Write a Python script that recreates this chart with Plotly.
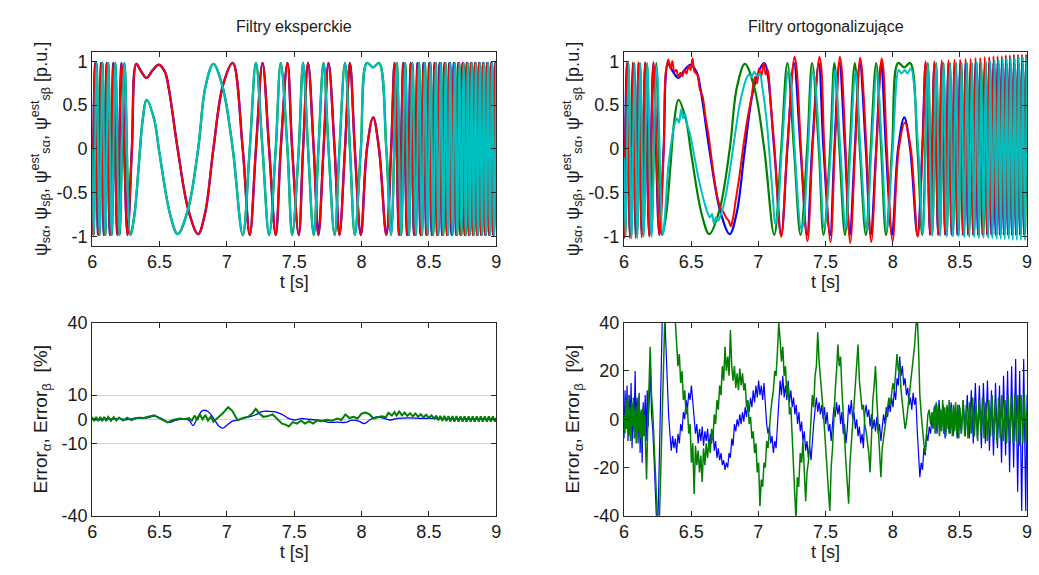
import plotly.graph_objects as go

# --- flux signals: extrema plus a few shape points ---
# true psi_s_alpha (blue); the expert filter estimate (red, left) lies on it
psi_a_t = [6.000, 6.022, 6.044, 6.066, 6.087, 6.108, 6.132, 6.157, 6.187, 6.218,
           6.262, 6.295, 6.328, 6.365, 6.405, 6.45, 6.495, 6.54, 6.57, 6.635,
           6.715, 6.787, 6.84, 6.90, 6.97, 7.044, 7.118, 7.17, 7.216, 7.265,
           7.314, 7.363, 7.40, 7.45, 7.485, 7.534, 7.566, 7.603, 7.645, 7.68,
           7.718, 7.755, 7.80, 7.836, 7.877, 7.914, 7.95, 7.995, 8.04, 8.086,
           8.13, 8.184, 8.22, 8.245, 8.278, 8.31, 8.338, 8.365, 8.39, 8.415,
           8.438, 8.46, 8.481, 8.502, 8.522, 8.542, 8.561, 8.58, 8.598, 8.616,
           8.634, 8.651, 8.668, 8.685, 8.702, 8.718, 8.734, 8.75, 8.766, 8.781,
           8.797, 8.812, 8.827, 8.842, 8.857, 8.872, 8.887, 8.902, 8.917, 8.932,
           8.947, 8.962, 8.977, 8.992, 9.0]
psi_a = [-0.98, 0.98, -0.98, 0.98, -0.98, 0.98, -0.98, 0.98, -0.98, 0.98,
         -0.98, 0.0, 0.97, 0.88, 0.81, 0.9, 0.96, 0.88, 0.68, 0.0,
         -0.7, -0.97, -0.72, 0.0, 0.72, 0.98, 0.0, -0.98, 0.0, 0.98,
         0.0, -0.98, 0.0, 0.98, 0.0, -0.98, 0.0, 0.98, 0.0, -0.98,
         0.0, 0.98, 0.0, -0.98, 0.0, 0.98, 0.0, -0.98, 0.0, 0.36,
         0.0, -0.98, 0.0, 0.98, -0.98, 0.98, -0.98, 0.98, -0.98, 0.98,
         -0.98, 0.98, -0.98, 0.98, -0.98, 0.98, -0.98, 0.98, -0.98, 0.98,
         -0.98, 0.98, -0.98, 0.98, -0.98, 0.98, -0.98, 0.98, -0.98, 0.98,
         -0.98, 0.98, -0.98, 0.98, -0.98, 0.98, -0.98, 0.98, -0.98, 0.98,
         -0.98, 0.98, -0.98, 0.98, 0.3]

# true psi_s_beta (green); the expert filter estimate (cyan, left) lies on it
psi_b_t = [6.000, 6.011, 6.033, 6.055, 6.077, 6.098, 6.12, 6.145, 6.172, 6.203,
           6.24, 6.284, 6.314, 6.345, 6.375, 6.405, 6.46, 6.5, 6.578, 6.635,
           6.71, 6.787, 6.84, 6.90, 6.97, 7.044, 7.118, 7.17, 7.216, 7.265,
           7.314, 7.363, 7.40, 7.45, 7.485, 7.534, 7.566, 7.603, 7.645, 7.68,
           7.718, 7.755, 7.80, 7.836, 7.877, 7.914, 7.95, 7.995, 8.04, 8.086,
           8.13, 8.184, 8.22, 8.262, 8.294, 8.324, 8.352, 8.378, 8.403, 8.427,
           8.449, 8.471, 8.491, 8.512, 8.532, 8.552, 8.57, 8.589, 8.607, 8.625,
           8.642, 8.659, 8.676, 8.693, 8.71, 8.726, 8.742, 8.758, 8.774, 8.789,
           8.804, 8.819, 8.834, 8.849, 8.864, 8.879, 8.894, 8.909, 8.924, 8.939,
           8.954, 8.969, 8.984, 8.999]
psi_b = [0.0, -0.98, 0.98, -0.98, 0.98, -0.98, 0.98, -0.98, 0.98, -0.98,
         0.98, -0.98, -0.75, -0.21, 0.33, 0.56, 0.34, -0.05, -0.74, -0.97,
         -0.7, 0.0, 0.7, 0.97, 0.7, 0.0, -0.98, 0.0, 0.98, 0.0,
         -0.98, 0.0, 0.98, 0.0, -0.98, 0.0, 0.98, 0.0, -0.98, 0.0,
         0.98, 0.0, -0.98, 0.0, 0.98, 0.0, -0.98, 0.0, 0.98, 0.93,
         0.98, 0.0, -0.98, 0.98, -0.98, 0.98, -0.98, 0.98, -0.98, 0.98,
         -0.98, 0.98, -0.98, 0.98, -0.98, 0.98, -0.98, 0.98, -0.98, 0.98,
         -0.98, 0.98, -0.98, 0.98, -0.98, 0.98, -0.98, 0.98, -0.98, 0.98,
         -0.98, 0.98, -0.98, 0.98, -0.98, 0.98, -0.98, 0.98, -0.98, 0.98,
         -0.98, 0.98, -0.98, 0.98]

# orthogonalising filter estimate of psi_s_alpha (red, right)
est_a_t = [6.000, 6.022, 6.044, 6.066, 6.087, 6.108, 6.132, 6.157, 6.188, 6.22,
           6.264, 6.296, 6.31, 6.33, 6.345, 6.36, 6.375, 6.39, 6.405, 6.42,
           6.435, 6.45, 6.465, 6.48, 6.495, 6.51, 6.525, 6.545, 6.565, 6.585,
           6.605, 6.63, 6.655, 6.68, 6.70, 6.72, 6.74, 6.76, 6.78, 6.795,
           6.81, 6.83, 6.86, 6.89, 6.92, 6.95, 6.975, 6.99, 7.005, 7.02,
           7.04, 7.055, 7.07, 7.09, 7.118, 7.17, 7.216, 7.27, 7.285, 7.314,
           7.365, 7.405, 7.455, 7.47, 7.49, 7.537, 7.57, 7.607, 7.62, 7.648,
           7.684, 7.722, 7.758, 7.77, 7.803, 7.84, 7.88, 7.918, 7.93, 7.955,
           7.999, 8.045, 8.09, 8.135, 8.186, 8.222, 8.245, 8.278, 8.31, 8.338,
           8.365, 8.39, 8.415, 8.438, 8.46, 8.481, 8.502, 8.522, 8.542, 8.561,
           8.58, 8.598, 8.616, 8.634, 8.651, 8.668, 8.685, 8.702, 8.718, 8.734,
           8.75, 8.766, 8.781, 8.797, 8.812, 8.827, 8.842, 8.857, 8.872, 8.887,
           8.902, 8.917, 8.932, 8.947, 8.962, 8.977, 8.992, 9.0]
est_a = [-1.02, 0.99, -1.02, 0.99, -1.02, 0.99, -1.01, 0.99, -1.0, 0.99,
         -0.98, 0.0, 0.85, 1.02, 0.92, 1.0, 0.88, 0.9, 0.82, 0.87,
         0.83, 0.9, 0.86, 0.95, 0.9, 1.03, 0.88, 0.85, 0.68, 0.6,
         0.38, 0.15, -0.15, -0.42, -0.58, -0.68, -0.72, -0.78, -0.82, -0.88,
         -0.8, -0.6, -0.3, 0.05, 0.35, 0.6, 0.82, 0.75, 0.92, 0.82,
         0.98, 0.85, 0.9, 0.55, 0.05, -1.0, 0.05, 1.05, 0.92, 0.1,
         -1.05, 0.05, 1.05, 0.9, 0.05, -1.06, 0.05, 1.05, 0.92, 0.05,
         -1.07, 0.05, 1.04, 0.92, 0.05, -1.06, 0.05, 1.03, 0.92, 0.05,
         -1.05, 0.0, 0.3, 0.0, -1.0, 0.0, 1.0, -0.97, 1.0, -0.97,
         1.01, -0.97, 1.01, -0.97, 1.02, -0.97, 1.02, -0.97, 1.03, -0.97,
         1.03, -0.97, 1.04, -0.97, 1.04, -0.97, 1.05, -0.97, 1.05, -0.97,
         1.06, -0.97, 1.06, -0.97, 1.06, -0.97, 1.07, -0.97, 1.07, -0.97,
         1.08, -0.97, 1.08, -0.97, 1.08, -0.97, 1.08, 0.3]

# orthogonalising filter estimate of psi_s_beta (cyan, right)
est_b_t = [6.000, 6.012, 6.034, 6.056, 6.078, 6.099, 6.121, 6.146, 6.174, 6.205,
           6.244, 6.29, 6.33, 6.36, 6.38, 6.395, 6.41, 6.425, 6.44, 6.455,
           6.47, 6.49, 6.52, 6.55, 6.58, 6.60, 6.62, 6.64, 6.655, 6.67,
           6.685, 6.70, 6.72, 6.745, 6.77, 6.80, 6.83, 6.86, 6.89, 6.91,
           6.93, 6.95, 6.97, 6.99, 7.01, 7.03, 7.06, 7.09, 7.11, 7.125,
           7.14, 7.175, 7.225, 7.24, 7.27, 7.32, 7.335, 7.37, 7.405, 7.42,
           7.455, 7.49, 7.54, 7.571, 7.61, 7.65, 7.686, 7.723, 7.76, 7.805,
           7.842, 7.882, 7.92, 7.955, 8.0, 8.045, 8.065, 8.09, 8.11, 8.135,
           8.19, 8.225, 8.262, 8.294, 8.324, 8.352, 8.378, 8.403, 8.427, 8.449,
           8.471, 8.491, 8.512, 8.532, 8.552, 8.57, 8.589, 8.607, 8.625, 8.642,
           8.659, 8.676, 8.693, 8.71, 8.726, 8.742, 8.758, 8.774, 8.789, 8.804,
           8.819, 8.834, 8.849, 8.864, 8.879, 8.894, 8.909, 8.924, 8.939, 8.954,
           8.969, 8.984, 8.999]
est_b = [-0.1, -1.0, 0.97, -1.02, 0.97, -1.02, 0.97, -1.0, 0.97, -1.0,
         0.95, -0.97, -0.2, 0.15, 0.3, 0.35, 0.3, 0.45, 0.35, 0.4,
         0.28, 0.18, -0.05, -0.3, -0.5, -0.62, -0.72, -0.78, -0.74, -0.85,
         -0.78, -0.82, -0.75, -0.62, -0.42, -0.12, 0.2, 0.5, 0.7, 0.8,
         0.85, 0.82, 0.88, 0.83, 0.86, 0.7, 0.35, -0.2, -0.6, -0.85,
         -0.78, 0.0, 0.9, 0.82, 0.0, -0.92, -0.85, 0.0, 0.88, 0.8,
         0.0, -0.9, 0.0, 0.9, 0.0, -0.9, 0.0, 0.88, 0.0, -0.92,
         0.0, 0.88, 0.0, -0.92, 0.0, 0.9, 0.86, 0.9, 0.86, 0.92,
         0.0, -0.97, 0.96, -0.99, 0.96, -0.99, 0.97, -1.0, 0.97, -1.0,
         0.98, -1.0, 0.98, -1.01, 0.99, -1.01, 0.99, -1.01, 1.0, -1.02,
         1.0, -1.02, 1.01, -1.02, 1.01, -1.02, 1.02, -1.03, 1.02, -1.03,
         1.03, -1.03, 1.03, -1.03, 1.04, -1.04, 1.04, -1.04, 1.05, -1.04,
         1.05, -1.04, 1.05]

# --- estimation errors [%] ---
err_l_a_t = [6.00, 6.05, 6.10, 6.15, 6.20, 6.25, 6.30, 6.35, 6.40, 6.46,
             6.52, 6.57, 6.62, 6.68, 6.72, 6.75, 6.78, 6.82, 6.86, 6.90,
             6.94, 6.97, 7.00, 7.04, 7.08, 7.13, 7.18, 7.22, 7.26, 7.31,
             7.36, 7.41, 7.45, 7.50, 7.55, 7.60, 7.65, 7.70, 7.76, 7.82,
             7.88, 7.93, 7.98, 8.02, 8.06, 8.11, 8.16, 8.21, 8.27, 8.35,
             8.45, 8.60, 8.80, 9.00]
err_l_a = [0.3, -0.2, 0.3, 0.0, 0.4, -0.2, 0.3, 0.8, 0.5, 1.3,
           0.2, -1.3, -0.5, 0.2, -0.5, -2.6, 0.5, 3.6, 3.2, 0.5,
           -2.8, -3.7, -2.5, -0.8, -0.4, 0.6, 1.2, 2.0, 3.2, 3.3,
           3.1, 2.0, 0.6, -0.3, 0.3, 0.0, -0.2, -0.5, -1.3, -1.2,
           -1.3, -0.4, -0.8, -1.8, -0.3, 1.0, 0.5, -0.3, 0.4, 0.6,
           0.4, 0.3, 0.1, 0.0]

err_l_b_t = [6.000, 6.015, 6.030, 6.045, 6.060, 6.075, 6.090, 6.105, 6.120, 6.140,
             6.160, 6.180, 6.200, 6.230, 6.260, 6.290, 6.330, 6.380, 6.460, 6.520,
             6.560, 6.600, 6.650, 6.690, 6.720, 6.740, 6.760, 6.780, 6.800, 6.820,
             6.840, 6.860, 6.880, 6.900, 6.930, 6.970, 7.010, 7.040, 7.080, 7.120,
             7.160, 7.190, 7.215, 7.240, 7.270, 7.300, 7.340, 7.380, 7.410, 7.440,
             7.460, 7.490, 7.520, 7.550, 7.580, 7.610, 7.640, 7.670, 7.700, 7.740,
             7.780, 7.820, 7.850, 7.880, 7.910, 7.940, 7.970, 8.000, 8.030, 8.060,
             8.090, 8.120, 8.150, 8.180, 8.200, 8.225, 8.245, 8.260, 8.280, 8.300,
             8.320, 8.340, 8.360, 8.380, 8.400, 8.420, 8.440, 8.460, 8.480, 8.500,
             8.520, 8.540, 8.555, 8.570, 8.585, 8.600, 8.615, 8.630, 8.645, 8.660,
             8.675, 8.690, 8.705, 8.720, 8.735, 8.750, 8.765, 8.780, 8.795, 8.810,
             8.825, 8.840, 8.855, 8.870, 8.885, 8.900, 8.915, 8.930, 8.945, 8.960,
             8.975, 8.990, 9.000]
err_l_b = [1.0, -0.8, 1.0, -0.8, 1.0, -0.8, 1.0, -0.7, 1.0, -0.6,
           0.9, -0.5, 0.7, -0.5, 0.6, -0.4, 0.5, 0.5, 1.6, 0.0,
           -1.3, -0.3, 0.3, 0.0, 0.5, -0.6, 1.5, -0.3, 2.0, 0.0,
           1.8, -0.5, 1.0, -1.0, 0.5, 2.5, 5.0, 3.5, -0.4, 0.5,
           1.0, 2.5, 4.3, 2.5, 1.0, 1.2, 2.0, 0.0, -1.8, -2.3,
           -3.0, -1.2, -1.8, -0.6, -1.8, -0.8, -1.8, -0.5, -0.8, -0.2,
           -0.6, 0.3, -0.3, 2.0, 0.5, 1.0, 0.3, 2.3, 2.8, 2.0,
           0.3, 0.8, 1.2, 0.8, 2.7, 1.5, 3.0, 1.5, 3.2, 1.6,
           2.8, 1.4, 2.5, 1.2, 2.4, 1.0, 2.1, 0.8, 1.9, 0.6,
           1.6, 0.3, 1.5, -0.5, 1.4, -0.7, 1.4, -0.8, 1.3, -0.9,
           1.3, -1.0, 1.3, -1.0, 1.2, -1.0, 1.2, -1.0, 1.2, -1.0,
           1.2, -1.0, 1.2, -1.0, 1.2, -1.0, 1.2, -1.0, 1.2, -1.0,
           1.2, -1.0, 0.5]

err_r_a_t = [6.000, 6.008, 6.015, 6.023, 6.030, 6.038, 6.045, 6.053, 6.060, 6.068,
             6.075, 6.083, 6.090, 6.098, 6.105, 6.113, 6.120, 6.128, 6.135, 6.143,
             6.150, 6.158, 6.165, 6.173, 6.180, 6.188, 6.197, 6.205, 6.215, 6.225,
             6.237, 6.248, 6.258, 6.268, 6.278, 6.288, 6.300, 6.312, 6.322, 6.332,
             6.342, 6.352, 6.362, 6.372, 6.382, 6.392, 6.402, 6.412, 6.422, 6.432,
             6.442, 6.452, 6.462, 6.472, 6.482, 6.492, 6.502, 6.512, 6.522, 6.532,
             6.542, 6.552, 6.562, 6.572, 6.582, 6.592, 6.602, 6.612, 6.622, 6.632,
             6.642, 6.652, 6.662, 6.672, 6.682, 6.692, 6.702, 6.712, 6.722, 6.732,
             6.742, 6.752, 6.762, 6.772, 6.782, 6.792, 6.802, 6.812, 6.822, 6.832,
             6.842, 6.852, 6.862, 6.872, 6.882, 6.892, 6.902, 6.912, 6.922, 6.932,
             6.942, 6.952, 6.962, 6.972, 6.982, 6.992, 7.002, 7.012, 7.022, 7.032,
             7.042, 7.052, 7.062, 7.072, 7.082, 7.092, 7.102, 7.112, 7.122, 7.132,
             7.142, 7.152, 7.162, 7.172, 7.182, 7.192, 7.202, 7.212, 7.222, 7.232,
             7.242, 7.252, 7.262, 7.272, 7.282, 7.292, 7.302, 7.312, 7.322, 7.332,
             7.342, 7.352, 7.362, 7.372, 7.382, 7.392, 7.402, 7.412, 7.422, 7.432,
             7.442, 7.452, 7.462, 7.472, 7.482, 7.492, 7.502, 7.512, 7.522, 7.532,
             7.542, 7.552, 7.562, 7.572, 7.582, 7.592, 7.602, 7.612, 7.622, 7.632,
             7.642, 7.652, 7.662, 7.672, 7.682, 7.692, 7.702, 7.712, 7.722, 7.732,
             7.742, 7.752, 7.762, 7.772, 7.782, 7.792, 7.802, 7.812, 7.822, 7.832,
             7.842, 7.852, 7.862, 7.872, 7.882, 7.892, 7.902, 7.912, 7.922, 7.932,
             7.942, 7.952, 7.962, 7.972, 7.982, 7.992, 8.002, 8.012, 8.022, 8.032,
             8.042, 8.052, 8.062, 8.072, 8.082, 8.092, 8.102, 8.112, 8.122, 8.132,
             8.142, 8.152, 8.162, 8.172, 8.182, 8.192, 8.202, 8.212, 8.222, 8.232,
             8.242, 8.252, 8.262, 8.272, 8.282, 8.292, 8.300, 8.315, 8.330, 8.345,
             8.360, 8.375, 8.390, 8.405, 8.420, 8.435, 8.450, 8.465, 8.480, 8.495,
             8.510, 8.525, 8.540, 8.555, 8.570, 8.585, 8.600, 8.615, 8.630, 8.645,
             8.660, 8.675, 8.690, 8.705, 8.720, 8.735, 8.750, 8.765, 8.780, 8.795,
             8.810, 8.825, 8.840, 8.855, 8.870, 8.885, 8.900, 8.915, 8.930, 8.945,
             8.960, 8.975, 8.990, 9.000]
err_r_a = [-8, 12, -4, 14, -9, 10, -2, 15, -12, 6,
           -5, 20, -3, 9, -10, 11, -14, 4, -18, 7,
           -6, 10, -9, 12, -3, 8, 21, 2, -5, -18,
           -35, -50, -30, -5, 25, 50, 48, 30, 12, 2,
           -6, -13, -7, -12, -8, -14, -6, -10, -2, -5,
           3, 0, 8, 4, 11, 8, 14, 6, 0, -6,
           -2, -10, -4, -9, -3, -11, -5, -9, -4, -12,
           -6, -10, -5, -13, -9, -16, -12, -17, -14, -19,
           -17, -21, -18, -20, -14, -16, -8, -11, -2, -5,
           0, -3, 2, -2, 3, -1, 5, 1, 7, 3,
           9, 5, 12, 7, 14, 9, 16, 10, 14, 8,
           15, 4, -2, -6, -3, -10, -7, -14, -9, -12,
           -3, 8, 16, 10, 18, 9, 14, 8, 16, 7,
           12, 5, 9, 2, 6, -2, 3, -5, -1, -9,
           -5, -13, -9, -16, -11, -17, -7, -2, 4, 9,
           3, 7, 2, 6, 0, 5, -2, 3, -5, -2,
           -9, -3, 5, 1, 7, 2, 6, -2, 3, -6,
           -2, -10, -4, 6, 2, 8, 0, 3, -4, 0,
           -7, -3, -10, -6, -12, 2, 6, 1, 4, -3,
           2, -4, 0, -5, 1, -6, -2, -9, -4, 2,
           -2, 5, 1, 7, 3, 9, 5, 12, 8, 17,
           14, 26, 18, 22, 14, 17, 10, 13, 6, 9,
           4, 11, 6, 9, -4, -14, -24, -18, -21, -12,
           -15, -6, -9, -3, -6, 1, -4, 6, -6, 8,
           -5, 6, -8, 5, -6, 7, -7, 5, -8, 6,
           -6, 8, -7, 10, -8, 12, -10, 15, -8, 14,
           -12, 15, -10, 16, -13, 12, -15, 15, -12, 14,
           -18, 18, -15, 20, -22, 22, -20, 25, -30, 20,
           -38, 25, -38, 10]

err_r_b_t = [6.000, 6.007, 6.014, 6.021, 6.028, 6.035, 6.042, 6.049, 6.056, 6.063,
             6.070, 6.077, 6.084, 6.091, 6.098, 6.105, 6.112, 6.119, 6.126, 6.133,
             6.140, 6.147, 6.154, 6.161, 6.168, 6.176, 6.184, 6.195, 6.205, 6.215,
             6.228, 6.243, 6.258, 6.272, 6.288, 6.302, 6.316, 6.350, 6.372, 6.382,
             6.392, 6.402, 6.412, 6.422, 6.432, 6.442, 6.452, 6.462, 6.472, 6.482,
             6.492, 6.502, 6.512, 6.522, 6.532, 6.542, 6.552, 6.562, 6.572, 6.582,
             6.592, 6.602, 6.612, 6.622, 6.632, 6.642, 6.652, 6.662, 6.672, 6.682,
             6.692, 6.702, 6.712, 6.722, 6.732, 6.742, 6.752, 6.762, 6.772, 6.782,
             6.792, 6.802, 6.812, 6.822, 6.832, 6.842, 6.852, 6.862, 6.872, 6.882,
             6.892, 6.902, 6.912, 6.922, 6.932, 6.942, 6.952, 6.962, 6.972, 6.982,
             6.992, 7.002, 7.012, 7.022, 7.032, 7.042, 7.052, 7.062, 7.072, 7.082,
             7.092, 7.102, 7.112, 7.122, 7.132, 7.142, 7.152, 7.162, 7.172, 7.182,
             7.192, 7.202, 7.212, 7.222, 7.232, 7.242, 7.252, 7.262, 7.272, 7.280,
             7.290, 7.300, 7.312, 7.322, 7.332, 7.342, 7.352, 7.362, 7.372, 7.382,
             7.392, 7.402, 7.412, 7.422, 7.432, 7.442, 7.452, 7.462, 7.472, 7.482,
             7.492, 7.502, 7.512, 7.522, 7.532, 7.542, 7.552, 7.562, 7.572, 7.582,
             7.592, 7.602, 7.612, 7.622, 7.632, 7.642, 7.652, 7.662, 7.672, 7.682,
             7.692, 7.702, 7.712, 7.722, 7.732, 7.742, 7.752, 7.762, 7.772, 7.782,
             7.792, 7.802, 7.812, 7.822, 7.832, 7.842, 7.852, 7.862, 7.872, 7.882,
             7.892, 7.902, 7.912, 7.922, 7.932, 7.942, 7.952, 7.962, 7.972, 7.982,
             7.992, 8.002, 8.012, 8.022, 8.032, 8.042, 8.052, 8.062, 8.072, 8.082,
             8.092, 8.102, 8.112, 8.122, 8.132, 8.142, 8.152, 8.162, 8.172, 8.182,
             8.192, 8.202, 8.212, 8.222, 8.232, 8.242, 8.252, 8.262, 8.272, 8.282,
             8.292, 8.300, 8.308, 8.316, 8.324, 8.332, 8.340, 8.348, 8.356, 8.364,
             8.372, 8.380, 8.388, 8.396, 8.404, 8.412, 8.420, 8.428, 8.436, 8.444,
             8.452, 8.460, 8.468, 8.476, 8.484, 8.492, 8.500, 8.512, 8.524, 8.536,
             8.548, 8.560, 8.572, 8.584, 8.596, 8.608, 8.620, 8.632, 8.644, 8.656,
             8.668, 8.680, 8.692, 8.704, 8.716, 8.728, 8.740, 8.752, 8.764, 8.776,
             8.788, 8.800, 8.812, 8.824, 8.836, 8.848, 8.860, 8.872, 8.884, 8.896,
             8.908, 8.920, 8.932, 8.944, 8.956, 8.968, 8.980, 8.992, 9.000]
err_r_b = [2, -6, 8, -4, 10, -7, 5, -9, 7, -3,
           9, -8, 4, -10, 6, -5, 10, -8, 3, -11,
           5, -7, 2, -15, -25, -5, 12, 30, 10, 2,
           -15, -35, -52, -25, 10, 38, 55, 58, 50, 40,
           30, 22, 27, 15, 20, 8, 12, 2, 5, -6,
           -2, -18, -10, -31, -11, -19, -13, -22, -15, -26,
           -12, -19, -10, -16, -9, -14, -4, -8, 2, -2,
           8, 4, 14, 10, 22, 16, 30, 20, 26, 18,
           37, 22, 16, 22, 13, 19, 12, 21, 14, 19,
           12, 15, 5, 8, -2, 1, -8, -5, -14, -10,
           -22, -18, -36, -25, -28, -18, -20, -9, -12, -2,
           3, 8, 12, 20, 18, 28, 40, 33, 24, 30,
           18, 22, 10, 14, 2, 5, -8, -18, -30, -42,
           -24, -28, -14, -18, -9, -25, -34, -22, -18, -10,
           0, 10, 5, 18, 22, 36, 24, 18, 10, 4,
           -4, -14, -22, -30, -38, -20, -12, 2, 12, 20,
           31, 22, 26, 12, 4, -8, -18, -26, -35, -18,
           -8, -2, 6, 14, 20, 31, 16, 10, 4, 6,
           -2, -5, -10, -14, -22, -4, 8, 14, 22, 8,
           -4, -14, -24, -12, -8, -3, 2, 4, 9, 6,
           12, 15, 12, 21, 27, 20, 23, 12, 6, 2,
           -4, -1, 4, 10, 14, 20, 24, 30, 38, 44,
           30, 10, 2, -6, -10, -14, -6, 2, 4, -2,
           3, -3, 5, -6, 7, -4, 6, -7, 4, -5,
           8, -6, 5, -7, 6, -4, 8, -6, 5, -7,
           6, -5, 7, -6, 6, -8, 5, -6, 8, -7,
           6, -8, 7, -6, 9, -7, 6, -9, 8, -6,
           9, -8, 7, -9, 8, -7, 10, -8, 7, -10,
           9, -8, 10, -9, 8, -10, 10, -9, 9, -10,
           11, -9, 10, -11, 10, -10, 11, -10, 4]

x_ticks = [6, 6.5, 7, 7.5, 8, 8.5, 9]
x_labels = ["6", "6.5", "7", "7.5", "8", "8.5", "9"]
psi_ticks = [-1, -0.5, 0, 0.5, 1]
psi_labels = ["-1", "-0.5", "0", "0.5", "1"]
err_l_ticks = [-40, -10, 0, 10, 40]
err_r_ticks = [-40, -20, 0, 20, 40]

W, H = 1039, 575
BLUE, GREEN, RED, CYAN = "#0000FF", "#008000", "#FF0000", "#00BFBF"
FONT = "Liberation Sans, Arial, sans-serif"
INK = "#1a1a1a"


def dom_x(left, right):
    return [left / W, right / W]


def dom_y(top, bottom):
    return [1 - bottom / H, 1 - top / H]


fig = go.Figure()


def add_line(x, y, color, width, n, spline):
    suffix = "" if n == 1 else str(n)
    fig.add_trace(go.Scatter(
        x=x, y=y, mode="lines", xaxis="x" + suffix, yaxis="y" + suffix,
        line=dict(color=color, width=width, shape="spline" if spline else "linear"),
        showlegend=False, hoverinfo="skip"))


# top left: expert filters (estimates sit on the true fluxes)
add_line(psi_a_t, psi_a, BLUE, 2.4, 1, True)
add_line(psi_b_t, psi_b, GREEN, 2.4, 1, True)
add_line(psi_a_t, psi_a, RED, 2.1, 1, True)
add_line(psi_b_t, psi_b, CYAN, 2.1, 1, True)

# top right: orthogonalising filters
add_line(psi_a_t, psi_a, BLUE, 2.2, 2, True)
add_line(psi_b_t, psi_b, GREEN, 2.2, 2, True)
add_line(est_a_t, est_a, RED, 2.0, 2, True)
add_line(est_b_t, est_b, CYAN, 2.0, 2, True)

# bottom: errors
add_line(err_l_a_t, err_l_a, BLUE, 1.3, 3, True)
add_line(err_l_b_t, err_l_b, GREEN, 2.0, 3, False)
add_line(err_r_a_t, err_r_a, BLUE, 1.2, 4, False)
add_line(err_r_b_t, err_r_b, GREEN, 1.5, 4, False)

axis_base = dict(showline=True, linecolor="#262626", linewidth=1, mirror="ticks",
                 ticks="inside", ticklen=5, tickcolor="#262626", zeroline=False,
                 showgrid=False, ticklabeloverflow="allow",
                 tickfont=dict(family=FONT, size=18, color=INK))

x_axis = dict(axis_base, range=[6, 9], tickvals=x_ticks, ticktext=x_labels,
              title=dict(text="t [s]", font=dict(family=FONT, size=18, color=INK),
                         standoff=4))

psi_title = ("ψ<sub>sα</sub>, ψ<sub>sβ</sub>, ψ<sup>est</sup><sub>sα</sub>, "
             "ψ<sup>est</sup><sub>sβ</sub> [p.u.]")
err_title = "Error<sub>α</sub>, Error<sub>β</sub>  [%]"

left_x, right_x = dom_x(88, 496), dom_x(625, 1032)
top_y, bot_y = dom_y(44, 244), dom_y(324, 524)

fig.update_layout(
    width=W, height=H, autosize=False,
    margin=dict(l=0, r=0, t=0, b=0),
    paper_bgcolor="white", plot_bgcolor="white",
    font=dict(family=FONT, color=INK),
    xaxis=dict(x_axis, domain=left_x, anchor="y"),
    yaxis=dict(axis_base, domain=top_y, anchor="x", range=[-1.1, 1.1],
               tickvals=psi_ticks, ticktext=psi_labels,
               title=dict(text=psi_title, font=dict(family=FONT, size=18, color=INK),
                          standoff=4)),
    xaxis2=dict(x_axis, domain=right_x, anchor="y2"),
    yaxis2=dict(axis_base, domain=top_y, anchor="x2", range=[-1.1, 1.1],
                tickvals=psi_ticks, ticktext=psi_labels,
                title=dict(text=psi_title, font=dict(family=FONT, size=18, color=INK),
                           standoff=4)),
    xaxis3=dict(x_axis, domain=left_x, anchor="y3"),
    yaxis3=dict(axis_base, domain=bot_y, anchor="x3", range=[-40, 40],
                tickvals=err_l_ticks, ticktext=[str(v) for v in err_l_ticks],
                showgrid=True, gridcolor="#d4d4d4", gridwidth=1,
                title=dict(text=err_title, font=dict(family=FONT, size=19, color=INK),
                           standoff=8)),
    xaxis4=dict(x_axis, domain=right_x, anchor="y4"),
    yaxis4=dict(axis_base, domain=bot_y, anchor="x4", range=[-40, 40],
                tickvals=err_r_ticks, ticktext=[str(v) for v in err_r_ticks],
                title=dict(text=err_title, font=dict(family=FONT, size=19, color=INK),
                           standoff=8)),
)

for text, dom in [("Filtry eksperckie", left_x), ("Filtry ortogonalizujące", right_x)]:
    fig.add_annotation(text=text, xref="paper", yref="paper",
                       x=(dom[0] + dom[1]) / 2, y=1 - 17 / H, showarrow=False,
                       xanchor="center", yanchor="middle",
                       font=dict(family=FONT, size=16, color=INK))

# the page's default body margin would push the 1039x575 figure off the window
fig.write_html("out.html", config={"displayModeBar": False},
               post_script="document.body.style.margin='0';"
                           "document.documentElement.style.overflow='hidden';")
